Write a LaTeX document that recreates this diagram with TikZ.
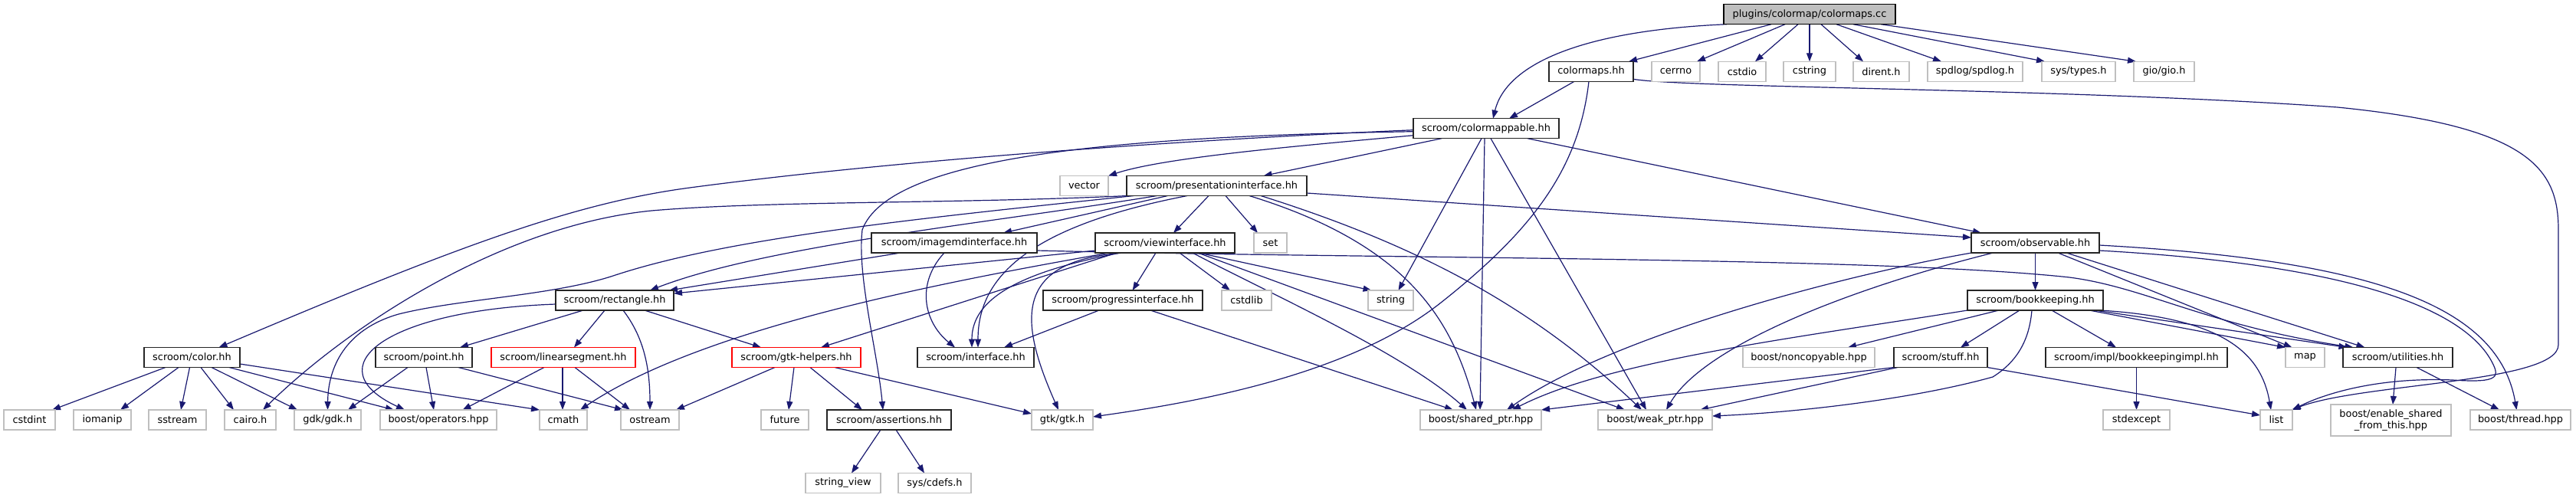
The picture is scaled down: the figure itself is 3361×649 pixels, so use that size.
\documentclass[tikz,border=0pt]{standalone}
\usepackage{fontspec}
\setmainfont{DejaVu Sans}
\usetikzlibrary{arrows.meta}
\definecolor{edgeblue}{HTML}{191970}
\definecolor{lightframe}{HTML}{BFBFBF}
\definecolor{rootfill}{HTML}{BFBFBF}
\definecolor{darkframe}{HTML}{262626}
\newcommand{\nodefont}{\fontsize{12.9}{15}\selectfont}
\pgfdeclarelayer{bglayer}
\pgfdeclarelayer{edgelayer}
\pgfsetlayers{bglayer,edgelayer,main}
\tikzset{
  hdr/.style={draw=darkframe, fill=white, line width=1.4pt, minimum height=26pt, inner sep=0pt, outer sep=0pt, font=\nodefont, text=black},
  sys/.style={hdr, draw=lightframe},
  trunc/.style={hdr, draw=red},
  rootnode/.style={hdr, draw=black, fill=rootfill},
  dep/.style={draw=edgeblue, line width=1.2pt, -{Triangle[length=11pt,width=8pt]}},
}
\begin{document}
\begin{tikzpicture}[x=1pt,y=-1pt]
\begin{pgfonlayer}{bglayer}
\fill[white] (0,0) rectangle (3361,649);
\end{pgfonlayer}
\useasboundingbox (0,0) rectangle (3361,649);

% row 0
\node[rootnode, minimum width=224pt] (cc) at (2361,18.7) {plugins/colormap/colormaps.cc};
% row 1
\node[hdr, minimum width=110pt] (colormaps) at (2076,93.3) {colormaps.hh};
\node[sys, minimum width=63pt] (cerrno) at (2186.5,93.3) {cerrno};
\node[sys, minimum width=62pt] (cstdio) at (2273,93.3) {cstdio};
\node[sys, minimum width=68pt] (cstring) at (2361,93.3) {cstring};
\node[sys, minimum width=73pt] (dirent) at (2454.5,93.3) {dirent.h};
\node[sys, minimum width=124pt] (spdlog) at (2577,93.3) {spdlog/spdlog.h};
\node[sys, minimum width=96pt] (systypes) at (2712,93.3) {sys/types.h};
\node[sys, minimum width=79pt] (gio) at (2823.5,93.3) {gio/gio.h};
% row 2
\node[hdr, minimum width=190pt] (colormappable) at (1939,167.7) {scroom/colormappable.hh};
% row 3
\node[sys, minimum width=63pt] (vector) at (1414.5,242.5) {vector};
\node[hdr, minimum width=235pt] (presentation) at (1587.5,242.5) {scroom/presentationinterface.hh};
% row 4
\node[hdr, minimum width=216pt] (imagemd) at (1245,317) {scroom/imagemdinterface.hh};
\node[hdr, minimum width=182pt] (view) at (1520,317) {scroom/viewinterface.hh};
\node[sys, minimum width=43pt] (set) at (1657.5,317) {set};
\node[hdr, minimum width=167pt] (observable) at (2655.5,317) {scroom/observable.hh};
% row 5
\node[hdr, minimum width=154pt] (rectangle) at (802,392) {scroom/rectangle.hh};
\node[hdr, minimum width=208pt] (progress) at (1465,392) {scroom/progressinterface.hh};
\node[sys, minimum width=65pt] (cstdlib) at (1626.5,392) {cstdlib};
\node[sys, minimum width=59pt] (string) at (1814.5,392) {string};
\node[hdr, minimum width=177pt] (bookkeeping) at (2655.5,392) {scroom/bookkeeping.hh};
% row 6
\node[hdr, minimum width=125pt] (color) at (250.5,466.5) {scroom/color.hh};
\node[hdr, minimum width=126pt] (point) at (553,466.5) {scroom/point.hh};
\node[trunc, minimum width=188pt] (linseg) at (735,466.5) {scroom/linearsegment.hh};
\node[trunc, minimum width=168pt] (gtkhelpers) at (1039,466.5) {scroom/gtk-helpers.hh};
\node[hdr, minimum width=152pt] (interface) at (1273,466.5) {scroom/interface.hh};
\node[sys, minimum width=172pt] (noncopyable) at (2360,466.5) {boost/noncopyable.hpp};
\node[hdr, minimum width=122pt] (stuff) at (2532,466.5) {scroom/stuff.hh};
\node[hdr, minimum width=237pt] (bkimpl) at (2787.5,466.5) {scroom/impl/bookkeepingimpl.hh};
\node[sys, minimum width=51pt] (map) at (3007.5,466.5) {map};
\node[hdr, minimum width=143pt] (utilities) at (3128.5,466.5) {scroom/utilities.hh};
% row 7
\node[sys, minimum width=67pt] (cstdint) at (38.5,548) {cstdint};
\node[sys, minimum width=75pt] (iomanip) at (133.5,548) {iomanip};
\node[sys, minimum width=75pt] (sstream) at (231.5,548) {sstream};
\node[sys, minimum width=67pt] (cairo) at (326.5,548) {cairo.h};
\node[sys, minimum width=87pt] (gdk) at (427.5,548) {gdk/gdk.h};
\node[sys, minimum width=152pt] (operators) at (572,548) {boost/operators.hpp};
\node[sys, minimum width=62pt] (cmath) at (735,548) {cmath};
\node[sys, minimum width=76pt] (ostream) at (848,548) {ostream};
\node[sys, minimum width=62pt] (future) at (1024,548) {future};
\node[hdr, minimum width=162pt] (assertions) at (1160,548) {scroom/assertions.hh};
\node[sys, minimum width=80pt] (gtk) at (1386,548) {gtk/gtk.h};
\node[sys, minimum width=158pt] (shared) at (1932,548) {boost/shared\_ptr.hpp};
\node[sys, minimum width=149pt] (weak) at (2159.5,548) {boost/weak\_ptr.hpp};
\node[sys, minimum width=87pt] (stdexcept) at (2787.5,548) {stdexcept};
\node[sys, minimum width=42pt] (list) at (2970,548) {list};
\node[sys, minimum width=157pt, minimum height=41pt, align=center] (enable) at (3119.5,548.5) {boost/enable\_shared\\\_from\_this.hpp};
\node[sys, minimum width=131pt] (thread) at (3288.5,548) {boost/thread.hpp};
% row 8
\node[sys, minimum width=98pt] (stringview) at (1100,630.5) {string\_view};
\node[sys, minimum width=95pt] (cdefs) at (1219.5,630.5) {sys/cdefs.h};

\begin{pgfonlayer}{edgelayer}
% colormaps.cc
\draw[dep] ([xshift=-108]cc.south) .. controls (2060,40) and (1965,85) .. ([xshift=9]colormappable.north);
\draw[dep] ([xshift=-50]cc.south) -- ([xshift=49]colormaps.north);
\draw[dep] ([xshift=-32]cc.south) -- ([xshift=27.5]cerrno.north);
\draw[dep] ([xshift=-15]cc.south) -- ([xshift=17]cstdio.north);
\draw[dep] (cc.south) -- (cstring.north);
\draw[dep] ([xshift=15]cc.south) -- ([xshift=-23.5]dirent.north);
\draw[dep] ([xshift=35]cc.south) -- ([xshift=-44]spdlog.north);
\draw[dep] ([xshift=57]cc.south) -- ([xshift=-44]systypes.north);
\draw[dep] ([xshift=93]cc.south) -- ([xshift=-36.5]gio.north);
% colormaps.hh
\draw[dep] ([xshift=-22]colormaps.south) -- ([xshift=30]colormappable.north);
\draw[dep] ([xshift=-3]colormaps.south) .. controls (2060,220) and (2000,300) .. (1880,395) .. controls (1760,490) and (1560,525) .. ([yshift=4]gtk.east);
\draw[dep] ([yshift=-10]colormaps.east) .. controls (2200,115) and (2700,115) .. (3050,140) .. controls (3300,165) and (3338,220) .. (3338,300) -- (3338,450) .. controls (3338,500) and (3080,500) .. ([xshift=-1]list.north east);
% colormappable
\draw[dep] ([yshift=-2]colormappable.west) .. controls (1600,180) and (1200,205) .. (900,245) .. controls (750,265) and (600,320) .. ([xshift=35]color.north);
\draw[dep] ([yshift=-4]colormappable.west) .. controls (1450,178) and (1160,205) .. (1125,300) .. controls (1118,360) and (1145,460) .. ([xshift=-8]assertions.north);
\draw[dep] ([yshift=-9]colormappable.west) .. controls (1700,190) and (1520,205) .. (vector.north east);
\draw[dep] ([xshift=-58]colormappable.south) -- ([xshift=61]presentation.north);
\draw[dep] ([xshift=-6]colormappable.south) -- ([xshift=10]string.north);
\draw[dep] ([xshift=-2]colormappable.south) -- ([xshift=-1]shared.north);
\draw[dep] ([xshift=6]colormappable.south) -- ([xshift=-11.5]weak.north);
\draw[dep] ([xshift=54]colormappable.south) -- ([xshift=-70.5]observable.north);
% presentationinterface
\draw[dep] ([xshift=-116]presentation.south) .. controls (1250,266) and (1000,262) .. (850,275) .. controls (650,295) and (450,430) .. ([xshift=16.5]cairo.north);
\draw[dep] ([xshift=-108]presentation.south) .. controls (1200,285) and (950,310) .. (800,360) .. controls (720,386) and (600,390) .. (520,410) .. controls (450,430) and (428,480) .. (gdk.north);
\draw[dep] ([xshift=-78]presentation.south) .. controls (1300,290) and (1000,320) .. ([xshift=46]rectangle.north);
\draw[dep] ([xshift=-38.5]presentation.south) .. controls (1345,295) and (1276,360) .. ([xshift=3]interface.north);
\draw[dep] ([xshift=-10.5]presentation.south) -- ([xshift=11]view.north);
\draw[dep] ([xshift=11.5]presentation.south) -- ([xshift=-16.5]set.north);
\draw[dep] ([xshift=-64]presentation.south) -- ([xshift=64]imagemd.north);
\draw[dep] ([yshift=-9.5]presentation.east) -- ([yshift=7]observable.west);
\draw[dep] ([xshift=42.5]presentation.south) .. controls (1840,320) and (1895,420) .. ([xshift=-6]shared.north);
\draw[dep] ([xshift=57.5]presentation.south) .. controls (1850,320) and (2000,400) .. ([xshift=-17.5]weak.north);
% imagemdinterface
\draw[dep] ([xshift=-70]imagemd.south) -- ([xshift=-6]rectangle.north east);
\draw[dep] ([xshift=-13]imagemd.south) .. controls (1195,370) and (1205,420) .. ([xshift=-27]interface.north);
\draw[dep] ([yshift=-10]imagemd.east) .. controls (1800,338) and (2450,335) .. (2700,362) .. controls (2800,375) and (2880,425) .. ([xshift=-58]utilities.north);
% viewinterface
\draw[dep] ([yshift=-10]view.west) -- ([yshift=9]rectangle.east);
\draw[dep] ([xshift=-73]view.south) .. controls (1250,365) and (920,425) .. ([xshift=22]cmath.north);
\draw[dep] ([xshift=-63]view.south) -- ([xshift=32]gtkhelpers.north);
\draw[dep] ([xshift=-58]view.south) .. controls (1330,355) and (1268,390) .. ([xshift=-5]interface.north);
\draw[dep] ([xshift=-53]view.south) .. controls (1320,340) and (1330,420) .. ([xshift=-5]gtk.north);
\draw[dep] ([xshift=-12]view.south) -- ([xshift=12.6]progress.north);
\draw[dep] ([xshift=19]view.south) -- ([xshift=-21.5]cstdlib.north);
\draw[dep] ([xshift=44]view.south) -- ([xshift=-25]string.north);
\draw[dep] ([xshift=36]view.south) .. controls (1650,380) and (1830,460) .. ([xshift=-18]shared.north);
\draw[dep] ([xshift=43]view.south) -- ([xshift=-39.5]weak.north);
% progressinterface
\draw[dep] ([xshift=-31]progress.south) -- ([xshift=37]interface.north);
\draw[dep] ([xshift=36]progress.south) -- ([xshift=-36]shared.north);
% rectangle
\draw[dep] ([xshift=-41]rectangle.south) -- ([xshift=47]point.north);
\draw[dep] ([xshift=-13]rectangle.south) -- ([xshift=14]linseg.north);
\draw[dep] ([xshift=11]rectangle.south) .. controls (840,440) and (848,480) .. (ostream.north);
\draw[dep] ([xshift=39]rectangle.south) -- ([xshift=-46]gtkhelpers.north);
\draw[dep] ([yshift=-5]rectangle.west) .. controls (500,405) and (410,480) .. ([xshift=-44]operators.north);
% color
\draw[dep] ([xshift=-34.5]color.south) -- ([xshift=29.5]cstdint.north);
\draw[dep] ([xshift=-17.5]color.south) -- ([xshift=23.5]iomanip.north);
\draw[dep] ([xshift=-3]color.south) -- ([xshift=4.5]sstream.north);
\draw[dep] ([xshift=11.5]color.south) -- ([xshift=-21.5]cairo.north);
\draw[dep] ([xshift=25.5]color.south) -- ([xshift=-39.5]gdk.north);
\draw[dep] ([xshift=48.5]color.south) -- ([xshift=-58]operators.north);
\draw[dep] ([yshift=-8.5]color.east) -- (cmath.north west);
% point
\draw[dep] ([xshift=-21]point.south) -- ([xshift=26.5]gdk.north);
\draw[dep] ([xshift=3]point.south) -- ([xshift=-6]operators.north);
\draw[dep] ([xshift=45]point.south) -- ([xshift=-35]ostream.north);
% linearsegment
\draw[dep] ([xshift=-25]linseg.south) -- ([xshift=31.5]operators.north);
\draw[dep] ([xshift=-1]linseg.south) -- ([xshift=-1]cmath.north);
\draw[dep] ([xshift=15]linseg.south) -- ([xshift=-26]ostream.north);
% gtk-helpers
\draw[dep] ([xshift=-28]gtkhelpers.south) -- ([xshift=34]ostream.north);
\draw[dep] ([xshift=-3]gtkhelpers.south) -- ([xshift=5]future.north);
\draw[dep] ([xshift=18]gtkhelpers.south) -- ([xshift=-35]assertions.north);
\draw[dep] ([xshift=50]gtkhelpers.south) -- ([yshift=8]gtk.west);
% assertions
\draw[dep] ([xshift=-11]assertions.south) -- ([xshift=11]stringview.north);
\draw[dep] ([xshift=9]assertions.south) -- ([xshift=-13.5]cdefs.north);
% observable
\draw[dep] (observable.south) -- (bookkeeping.north);
\draw[dep] ([xshift=29.5]observable.south) -- ([xshift=-17]map.north);
\draw[dep] ([xshift=40.5]observable.south) -- ([xshift=-43]utilities.north);
\draw[dep] ([yshift=-3]observable.east) .. controls (3100,340) and (3260,400) .. ([xshift=-5]thread.north);
\draw[dep] ([yshift=-10]observable.east) .. controls (3060,345) and (3210,400) .. (3250,470) .. controls (3262,492) and (3262,500) .. (3200,496) .. controls (3100,492) and (3030,515) .. (list.north east);
\draw[dep] ([xshift=-83]observable.south) .. controls (2400,360) and (2100,440) .. ([xshift=34]shared.north);
\draw[dep] ([xshift=-55]observable.south) .. controls (2400,380) and (2220,455) .. ([xshift=14.5]weak.north);
% bookkeeping
\draw[dep] ([xshift=-47.5]bookkeeping.south) -- ([xshift=51]noncopyable.north);
\draw[dep] ([xshift=-20.5]bookkeeping.south) -- ([xshift=26]stuff.north);
\draw[dep] ([xshift=21.5]bookkeeping.south) -- ([xshift=-26.5]bkimpl.north);
\draw[dep] ([xshift=70.5]bookkeeping.south) -- (map.north west);
\draw[dep] ([xshift=77.5]bookkeeping.south) -- ([xshift=-66]utilities.north);
\draw[dep] ([xshift=84.5]bookkeeping.south) .. controls (2900,415) and (2950,460) .. ([xshift=-7]list.north);
\draw[dep] (bookkeeping.south west) .. controls (2350,440) and (2100,470) .. ([xshift=41]shared.north);
\draw[dep] ([xshift=-4.5]bookkeeping.south) .. controls (2648,440) and (2635,470) .. (2600,492) .. controls (2500,520) and (2350,538) .. ([yshift=5]weak.east);
% stuff
\draw[dep] (stuff.south west) -- (shared.north east);
\draw[dep] ([xshift=-56]stuff.south) -- ([xshift=-16]weak.north east);
\draw[dep] (stuff.south east) -- ([yshift=6]list.west);
% bookkeepingimpl
\draw[dep] (bkimpl.south) -- (stdexcept.north);
% utilities
\draw[dep] ([xshift=-2.5]utilities.south) -- ([xshift=2.5]enable.north);
\draw[dep] ([xshift=24.5]utilities.south) -- ([xshift=-27.5]thread.north);
\end{pgfonlayer}
\end{tikzpicture}
\end{document}
